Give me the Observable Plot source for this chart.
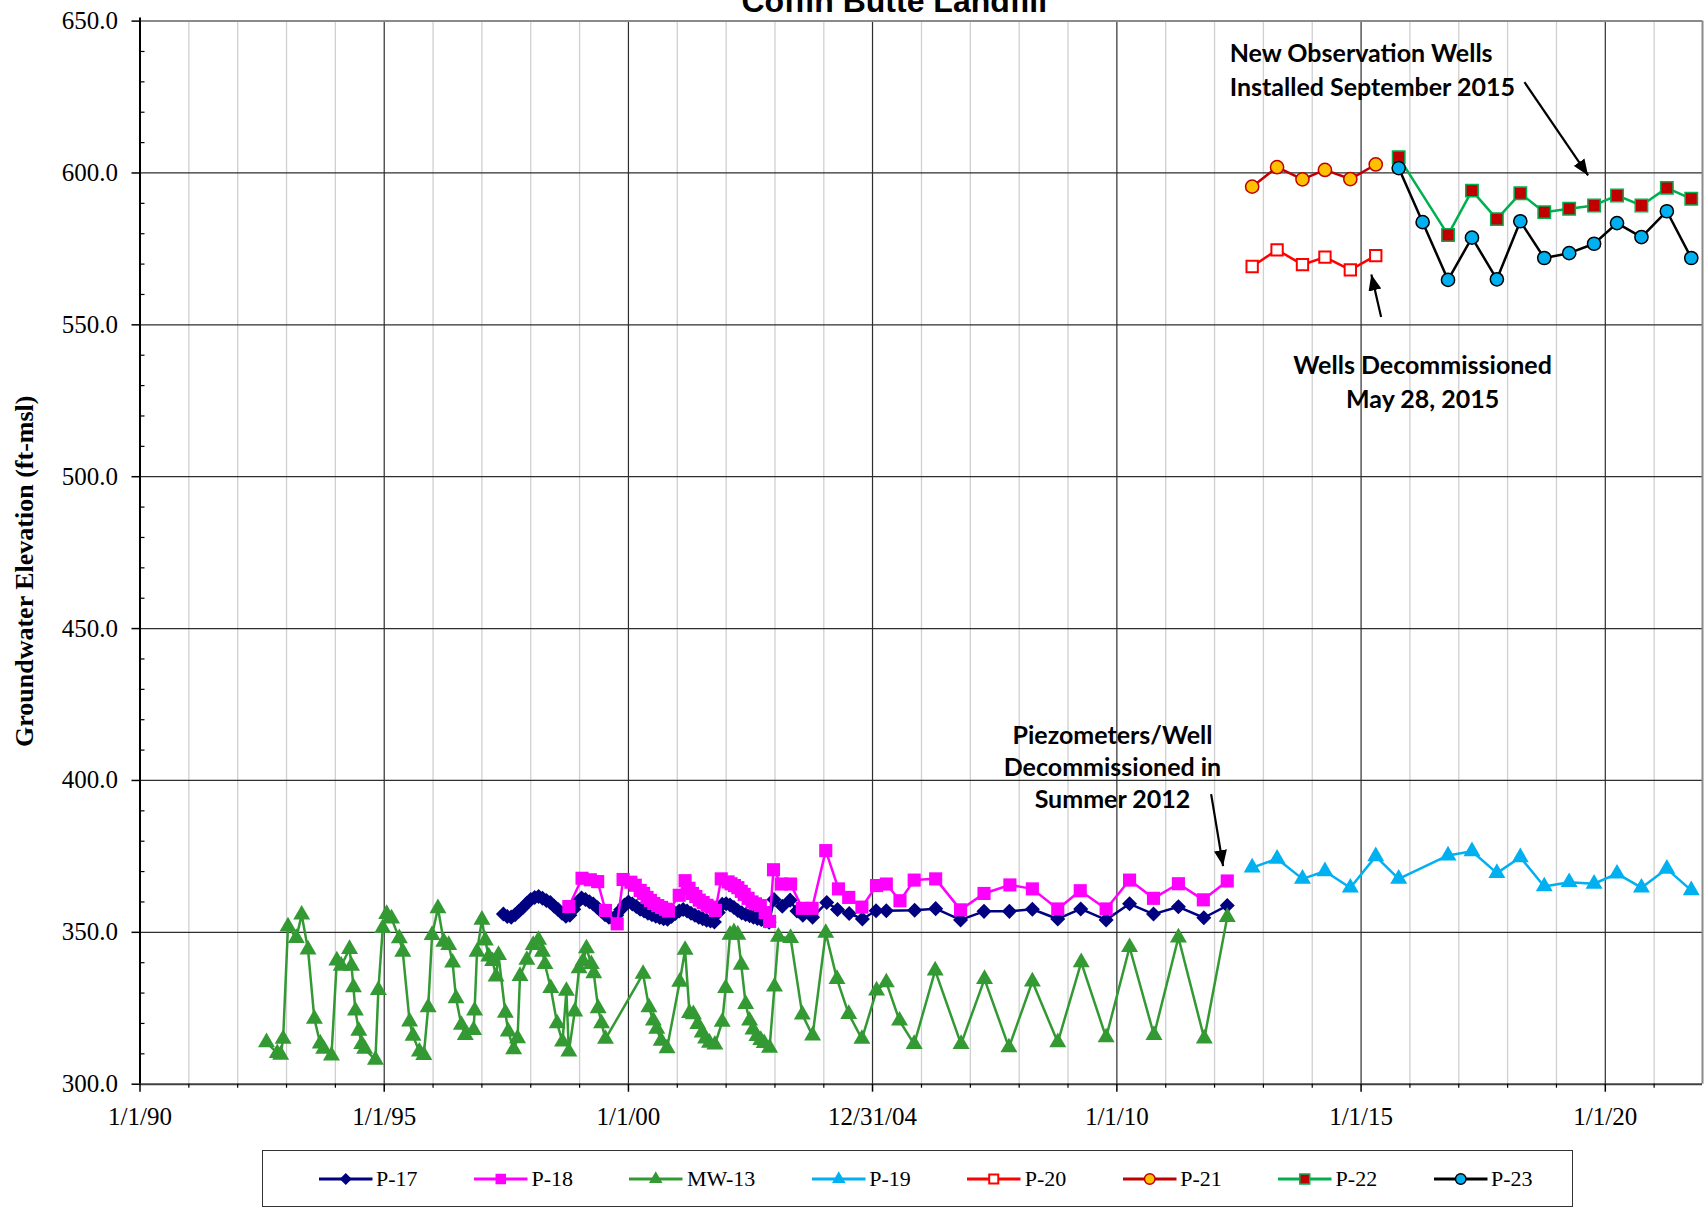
<!DOCTYPE html>
<html><head><meta charset="utf-8">
<script src="https://cdn.jsdelivr.net/npm/d3@7"></script>
<script src="https://cdn.jsdelivr.net/npm/@observablehq/plot@0.6"></script>
<style>
body{margin:0;background:#fff;width:1704px;height:1209px;overflow:hidden;}
#chart{position:relative;width:1704px;height:1209px;}
#legend{position:absolute;left:261.5px;top:1150px;width:1311px;height:57px;box-sizing:border-box;border:1.5px solid #333;display:flex;align-items:center;padding-left:56px;font-family:"Liberation Serif";font-size:22px;color:#000;white-space:nowrap;}
.item{display:flex;align-items:center;margin-right:56.4px;flex:0 0 auto;}
.item svg{display:block;overflow:visible;flex:0 0 auto;}
.item span{margin-left:4px;white-space:nowrap;}
</style></head><body><div id="chart"></div><script>
// ---------- data ----------
const p17Years = [1997.44,1997.52,1997.60,1997.68,1997.76,1997.84,1997.92,1998.00,1998.08,1998.16,1998.24,1998.32,1998.40,1998.48,1998.56,1998.64,1998.72,1998.80,1998.88,1998.96,1999.04,1999.12,1999.20,1999.28,1999.36,1999.44,1999.52,1999.60,1999.68,1999.76,1999.84,1999.92,2000.00,2000.08,2000.16,2000.24,2000.32,2000.40,2000.48,2000.56,2000.64,2000.72,2000.80,2000.88,2000.96,2001.04,2001.12,2001.20,2001.28,2001.36,2001.44,2001.52,2001.60,2001.68,2001.76,2001.84,2001.92,2002.00,2002.08,2002.16,2002.24,2002.32,2002.40,2002.48,2002.56,2002.64,2002.72,2002.80,2002.88,2002.98,2003.15,2003.31,2003.45,2003.57,2003.77,2004.06,2004.28,2004.52,2004.79,2005.07,2005.28,2005.86,2006.29,2006.80,2007.28,2007.80,2008.27,2008.79,2009.26,2009.78,2010.26,2010.75,2011.26,2011.78,2012.26];
const p17Values = [356.0,355.2,355.0,355.8,357.0,358.2,359.6,360.8,361.5,361.8,361.2,360.5,359.8,358.6,357.5,356.3,355.3,355.6,357.6,360.0,361.3,360.8,360.1,359.3,358.2,357.0,355.8,355.0,354.5,355.6,357.4,359.0,360.0,359.3,358.5,357.6,357.0,356.3,355.8,355.3,354.9,354.5,354.3,355.2,356.2,357.0,357.5,357.0,356.3,355.6,355.0,354.5,354.0,353.7,353.4,356.5,359.2,359.4,359.0,358.2,357.2,356.4,355.9,355.5,355.0,354.6,354.2,353.7,353.3,360.8,358.6,360.6,357.0,355.6,355.0,359.8,357.5,356.2,354.4,357.1,357.1,357.3,357.8,354.1,356.9,356.9,357.6,354.4,357.7,354.1,359.4,356.0,358.4,354.8,358.8];

const p18Years = [1998.78,1999.05,1999.22,1999.37,1999.53,1999.77,1999.89,2000.05,2000.14,2000.24,2000.31,2000.38,2000.45,2000.52,2000.60,2000.68,2000.76,2000.82,2001.04,2001.16,2001.24,2001.31,2001.38,2001.45,2001.53,2001.61,2001.69,2001.78,2001.90,2002.04,2002.10,2002.17,2002.24,2002.31,2002.37,2002.45,2002.53,2002.60,2002.70,2002.80,2002.89,2002.97,2003.13,2003.32,2003.56,2003.76,2004.04,2004.30,2004.51,2004.78,2005.08,2005.28,2005.56,2005.85,2006.29,2006.80,2007.28,2007.81,2008.27,2008.79,2009.25,2009.78,2010.26,2010.75,2011.26,2011.77,2012.26];
const p18Values = [358.5,367.8,367.3,366.7,357.2,352.8,367.4,366.5,365.5,363.8,362.8,361.5,360.5,359.5,358.8,358.2,357.6,357.0,362.2,367.0,364.5,362.8,361.8,360.6,359.8,358.9,358.3,357.2,367.6,366.6,366.0,365.4,364.7,363.5,362.5,361.2,360.0,359.4,358.8,356.5,353.6,370.6,365.9,365.9,357.9,357.9,376.9,364.3,361.5,358.3,365.4,365.9,360.4,367.2,367.6,357.4,362.8,365.6,364.3,357.7,363.7,357.7,367.2,361.2,366.0,360.7,366.9];

const mw13Years = [1992.59,1992.81,1992.88,1992.93,1993.03,1993.20,1993.31,1993.44,1993.57,1993.69,1993.76,1993.92,1994.03,1994.12,1994.29,1994.33,1994.37,1994.41,1994.48,1994.54,1994.60,1994.82,1994.88,1994.97,1995.05,1995.15,1995.31,1995.38,1995.52,1995.59,1995.72,1995.81,1995.90,1995.98,1996.10,1996.22,1996.32,1996.40,1996.47,1996.58,1996.66,1996.83,1996.85,1996.90,1997.00,1997.07,1997.14,1997.22,1997.29,1997.34,1997.48,1997.54,1997.65,1997.73,1997.78,1997.92,1998.05,1998.16,1998.24,1998.29,1998.41,1998.54,1998.65,1998.73,1998.78,1998.90,1998.99,1999.07,1999.14,1999.24,1999.29,1999.38,1999.45,1999.53,2000.30,2000.42,2000.51,2000.58,2000.67,2000.79,2001.05,2001.16,2001.25,2001.33,2001.42,2001.51,2001.58,2001.66,2001.77,2001.92,2001.99,2002.08,2002.16,2002.24,2002.31,2002.40,2002.48,2002.55,2002.63,2002.71,2002.78,2002.89,2002.99,2003.07,2003.32,2003.56,2003.77,2004.04,2004.27,2004.51,2004.78,2005.08,2005.28,2005.55,2005.85,2006.28,2006.81,2007.29,2007.79,2008.27,2008.79,2009.27,2009.78,2010.26,2010.76,2011.26,2011.79,2012.26];
const mw13Values = [313.8,310.2,309.7,314.9,351.9,348.1,355.8,344.3,321.5,313.4,311.6,309.4,340.7,339.0,344.5,339.0,331.9,324.2,317.6,313.2,311.6,308.0,331.0,351.4,356.0,354.5,348.0,343.6,320.6,315.9,310.7,309.6,325.3,349.1,357.9,346.9,345.8,340.0,328.3,319.5,316.2,317.8,324.2,343.6,354.1,347.3,342.0,340.5,335.4,342.5,323.5,317.3,311.5,315.1,335.6,340.9,345.8,347.5,343.6,339.5,331.6,320.0,314.0,330.7,310.7,323.9,338.1,340.5,344.7,339.5,336.5,325.0,320.0,314.9,336.3,325.3,320.9,318.2,314.3,311.8,333.7,344.2,323.4,323.0,319.8,317.0,315.0,313.6,313.0,320.5,331.6,349.2,350.0,349.2,339.3,326.4,320.9,318.0,315.8,314.5,313.5,312.0,332.1,348.5,348.1,322.9,316.0,349.8,334.6,323.1,314.9,330.8,333.5,320.9,313.2,337.4,313.2,334.6,312.1,333.8,313.8,340.1,315.4,345.1,316.2,348.3,315.0,355.0];

const p19Years = [2012.77,2013.28,2013.80,2014.26,2014.78,2015.30,2015.77,2016.78,2017.27,2017.78,2018.26,2018.75,2019.26,2019.77,2020.24,2020.74,2021.26,2021.76];
const p19Values = [371.3,374.2,367.6,370.1,364.7,375.0,367.6,375.3,376.7,369.5,374.7,365.1,366.5,366.0,369.3,364.7,370.9,363.8];

const oldWellYears = [2012.77,2013.28,2013.80,2014.26,2014.78,2015.30];
const p20Values = [569.2,574.7,569.8,572.3,568.1,572.8];
const p21Values = [595.5,601.9,597.9,601.0,598.0,602.8];

const p22Years = [2015.77,2016.78,2017.27,2017.78,2018.26,2018.75,2019.26,2019.77,2020.24,2020.74,2021.26,2021.76];
const p22Values = [605.2,579.6,594.2,584.8,593.3,587.1,588.2,589.3,592.6,589.3,595.1,591.5];

const p23Years = [2015.77,2016.26,2016.78,2017.27,2017.78,2018.26,2018.75,2019.26,2019.77,2020.24,2020.74,2021.26,2021.76];
const p23Values = [601.6,583.8,564.8,578.7,565.0,584.1,572.0,573.6,576.7,583.5,578.9,587.4,572.0];

const seriesNames = ["P-17","P-18","MW-13","P-19","P-20","P-21","P-22","P-23"];

const xTickValues = [1990, 1995, 2000, 2004.9973, 2010, 2015, 2020];
const xTickLabels = ["1/1/90","1/1/95","1/1/00","12/31/04","1/1/10","1/1/15","1/1/20"];
const xMinorTicks = d3.range(1991, 2022).filter(y => y % 5 !== 0);
const yMajorTicks = [300, 350, 400, 450, 500, 550, 600, 650];
const yMinorTicks = d3.range(300, 651, 10).filter(v => v % 50 !== 0);

const titleText = "Coffin Butte Landfill";
const yLabelText = "Groundwater Elevation (ft-msl)";

const noteTexts = ["New Observation Wells\nInstalled September 2015", "Wells Decommissioned\nMay 28, 2015", "Piezometers/Well\nDecommissioned in\nSummer 2012"];
const noteX = [2012.31, 2016.26, 2009.91];
const noteY = [634.4, 531.7, 404.7];

const arrowX1 = [2018.345, 2015.41, 2011.93];
const arrowY1 = [629.9, 552.6, 395.5];
const arrowX2 = [2019.648, 2015.21, 2012.175];
const arrowY2 = [599.2, 566.6, 371.8];

// ---------- build ----------
const pts = (xs, ys) => xs.map((x, i) => ({x, y: ys[i]}));
const diamond = { draw(ctx, size) { const s = Math.sqrt(size / 2); ctx.moveTo(0, -s); ctx.lineTo(s, 0); ctx.lineTo(0, s); ctx.lineTo(-s, 0); ctx.closePath(); } };

const series = [
  {name: seriesNames[0], data: pts(p17Years, p17Values), line: "#000080", symbol: diamond, r: 6.0, fill: "#000080", stroke: "#000080", sw: 0},
  {name: seriesNames[1], data: pts(p18Years, p18Values), line: "#FF00FF", symbol: "square", r: 7.4, fill: "#FF00FF", stroke: "#FF00FF", sw: 0},
  {name: seriesNames[2], data: pts(mw13Years, mw13Values), line: "#339933", symbol: "triangle", r: 6.3, fill: "#339933", stroke: "#339933", sw: 0},
  {name: seriesNames[3], data: pts(p19Years, p19Values), line: "#00B0F0", symbol: "triangle", r: 6.3, fill: "#00B0F0", stroke: "#00B0F0", sw: 0},
  {name: seriesNames[4], data: pts(oldWellYears, p20Values), line: "#FF0000", symbol: "square", r: 6.4, fill: "#FFFFFF", stroke: "#FF0000", sw: 2},
  {name: seriesNames[5], data: pts(oldWellYears, p21Values), line: "#C00000", symbol: "circle", r: 6.6, fill: "#FFC000", stroke: "#C00000", sw: 1.5},
  {name: seriesNames[6], data: pts(p22Years, p22Values), line: "#00B050", symbol: "square", r: 7.0, fill: "#C00000", stroke: "#00B050", sw: 1.5},
  {name: seriesNames[7], data: pts(p23Years, p23Values), line: "#000000", symbol: "circle", r: 6.6, fill: "#00B0F0", stroke: "#000000", sw: 1.5}
];

function filledArrow(color, context) {
  const doc = (context && context.document) || document;
  const m = doc.createElementNS("http://www.w3.org/2000/svg", "marker");
  m.setAttribute("viewBox", "-16 -7 17 14");
  m.setAttribute("markerWidth", "17");
  m.setAttribute("markerHeight", "14");
  m.setAttribute("markerUnits", "userSpaceOnUse");
  m.setAttribute("orient", "auto");
  m.setAttribute("refX", "0");
  m.setAttribute("refY", "0");
  const p = doc.createElementNS("http://www.w3.org/2000/svg", "path");
  p.setAttribute("d", "M-16,-6.5L0,0L-16,6.5Z");
  p.setAttribute("fill", "#000");
  p.setAttribute("stroke", "none");
  m.appendChild(p);
  return m;
}

const xDomainEnd = 2021.99;
const tickLabelMap = new Map(xTickValues.map((v, i) => [v, xTickLabels[i]]));
const arrows = arrowX1.map((x1, i) => ({x1, y1: arrowY1[i], x2: arrowX2[i], y2: arrowY2[i]}));
const notes = noteTexts.map((t, i) => ({t, x: noteX[i], y: noteY[i]}));
const noteFont = {fontFamily: "Lato", fontWeight: "bold", fontSize: 25, fill: "#000", lineAnchor: "middle"};

const marks = [
  Plot.ruleX(xMinorTicks, {stroke: "#d0d0d0", strokeWidth: 1.3}),
  Plot.ruleY(yMajorTicks.filter(v => v > 300 && v < 650), {stroke: "#2e2e2e", strokeWidth: 1.2}),
  Plot.ruleX(xTickValues.filter(v => v > 1990), {stroke: "#2e2e2e", strokeWidth: 1.2}),
  Plot.ruleY([650], {stroke: "#8a8a8a", strokeWidth: 2}),
  Plot.ruleX([xDomainEnd], {stroke: "#8a8a8a", strokeWidth: 2}),
  Plot.ruleY([300], {stroke: "#404040", strokeWidth: 2}),
  Plot.ruleX([1990], {y1: 300, y2: 651, stroke: "#000", strokeWidth: 2}),
  Plot.axisY(yMajorTicks, {anchor: "left", tickSize: 8, tickPadding: 14, tickFormat: d3.format(".1f"), fontSize: 25, label: null, strokeWidth: 1.5}),
  Plot.axisY(yMinorTicks, {anchor: "left", tickSize: 5, tickFormat: () => "", label: null, dx: 5, strokeWidth: 1.2}),
  Plot.axisX(xTickValues, {anchor: "bottom", tickSize: 8, tickPadding: 15, tickFormat: d => tickLabelMap.get(d), fontSize: 25, label: null, strokeWidth: 1.5}),
  Plot.axisX(xMinorTicks, {anchor: "bottom", tickSize: 4, tickFormat: () => "", label: null, strokeWidth: 1.2})
];
for (const s of series) {
  marks.push(Plot.line(s.data, {x: "x", y: "y", stroke: s.line, strokeWidth: 2.5}));
  marks.push(Plot.dot(s.data, {x: "x", y: "y", symbol: s.symbol, r: s.r, fill: s.fill, stroke: s.stroke, strokeWidth: s.sw}));
}
marks.push(
  Plot.link(arrows, {x1: "x1", y1: "y1", x2: "x2", y2: "y2", stroke: "#000", strokeWidth: 2.2, markerEnd: filledArrow}),
  Plot.text([notes[0]], {x: "x", y: "y", text: "t", textAnchor: "start", lineHeight: 1.36, ...noteFont}),
  Plot.text([notes[1]], {x: "x", y: "y", text: "t", textAnchor: "middle", lineHeight: 1.36, ...noteFont}),
  Plot.text([notes[2]], {x: "x", y: "y", text: "t", textAnchor: "middle", lineHeight: 1.28, ...noteFont}),
  Plot.text([titleText], {frameAnchor: "top", lineAnchor: "bottom", dx: -27, dy: -9, fontFamily: "Liberation Sans", fontWeight: "bold", fontSize: 32, fill: "#000"}),
  Plot.text([yLabelText], {frameAnchor: "left", textAnchor: "middle", lineAnchor: "middle", rotate: -90, dx: -115.5, dy: 18.6, fontFamily: "Liberation Serif", fontWeight: "bold", fontSize: 26, fill: "#000"})
);

const chart = Plot.plot({
  width: 1704, height: 1140,
  marginLeft: 139.5, marginRight: 2, marginTop: 20.6, marginBottom: 56.3,
  x: {type: "linear", domain: [1990, xDomainEnd], label: null},
  y: {type: "linear", domain: [300, 650], label: null},
  style: {fontFamily: "Liberation Serif", fontSize: "25px", color: "#000", background: "#fff", overflow: "visible"},
  marks
});
const root = document.getElementById("chart");
root.appendChild(chart);

// ---------- legend ----------
const legend = document.createElement("div");
legend.id = "legend";
for (const s of series) {
  const item = document.createElement("div");
  item.className = "item";
  const svg = d3.create("svg").attr("width", 53.5).attr("height", 20);
  svg.append("line").attr("x1", 0).attr("x2", 53.5).attr("y1", 10).attr("y2", 10).attr("stroke", s.line).attr("stroke-width", 3);
  const sym = s.symbol === "square" ? d3.symbolSquare : s.symbol === "triangle" ? d3.symbolTriangle : s.symbol === "circle" ? d3.symbolCircle : s.symbol;
  const rr = s.r * 0.8;
  svg.append("path").attr("d", d3.symbol(sym, Math.PI * rr * rr)()).attr("transform", "translate(26.75,10)")
    .attr("fill", s.fill).attr("stroke", s.sw ? s.stroke : "none").attr("stroke-width", s.sw);
  item.appendChild(svg.node());
  const lab = document.createElement("span");
  lab.textContent = s.name;
  item.appendChild(lab);
  legend.appendChild(item);
}
root.appendChild(legend);
</script></body></html>
